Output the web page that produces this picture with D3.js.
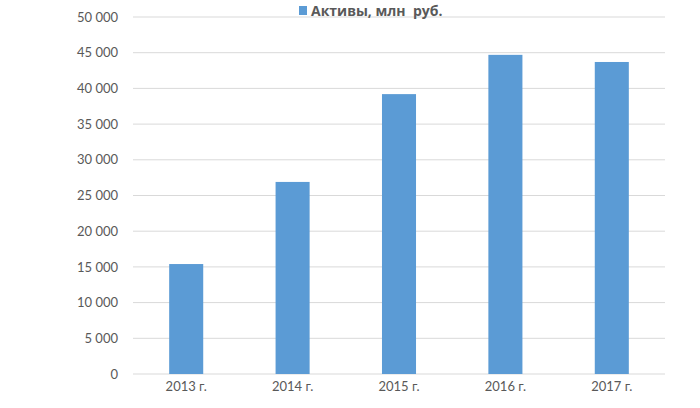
<!DOCTYPE html>
<html><head><meta charset="utf-8">
<script src="https://cdn.jsdelivr.net/npm/d3@7"></script>
<style>body{margin:0;background:#fff;} svg{display:block;font-family:Lato,"Open Sans",sans-serif;}</style>
</head><body>
<svg id="c" width="700" height="408"></svg>
<script>
const categories = ["2013 г.", "2014 г.", "2015 г.", "2016 г.", "2017 г."];
const values = [15400, 26900, 39200, 44700, 43700];
const yTicks = [0, 5000, 10000, 15000, 20000, 25000, 30000, 35000, 40000, 45000, 50000];
const seriesName = "Активы, млн  руб.";

const svg = d3.select("#c");
const m = {left: 133, right: 35, top: 17, bottom: 34};
const W = 700, H = 408;
const x = d3.scaleBand().domain(categories).range([m.left, W - m.right]).paddingInner(0.68).paddingOuter(0.34);
const y = d3.scaleLinear().domain([0, 50000]).range([H - m.bottom, m.top]);
const fmt = v => d3.format(",")(v).replace(/,/g, " ");

svg.append("g").selectAll("line").data(yTicks).join("line")
  .attr("x1", m.left).attr("x2", W - m.right)
  .attr("y1", d => y(d)).attr("y2", d => y(d))
  .attr("stroke", "#d9d9d9").attr("stroke-width", 1);

const ya = svg.append("g").attr("transform", `translate(${m.left},0)`)
  .call(d3.axisLeft(y).tickValues(yTicks).tickFormat(fmt).tickSize(0).tickPadding(15));
ya.select(".domain").remove();
ya.selectAll("text").attr("fill", "#595959").style("font-size", "13px").style("font-family", "Lato,'Open Sans',sans-serif");

svg.append("g").selectAll("rect").data(values).join("rect")
  .attr("x", (d, i) => x(categories[i])).attr("width", x.bandwidth())
  .attr("y", d => y(d)).attr("height", d => y(0) - y(d))
  .attr("fill", "#5b9bd5");

const xa = svg.append("g").attr("transform", `translate(0,${y(0)})`)
  .call(d3.axisBottom(x).tickSize(0).tickPadding(8));
xa.select(".domain").remove();
xa.selectAll("text").attr("fill", "#595959").style("font-size", "13px").style("font-family", "Lato,'Open Sans',sans-serif");

const lg = svg.append("g");
lg.append("rect").attr("x", 299).attr("y", 6).attr("width", 8).attr("height", 9).attr("fill", "#5b9bd5");
lg.append("text").attr("x", 311).attr("y", 15.5).text(seriesName)
  .attr("fill", "#595959").style("font-family", "'Open Sans',sans-serif").style("font-size", "14px").style("font-weight", "bold").style("white-space", "pre");
</script>
</body></html>
